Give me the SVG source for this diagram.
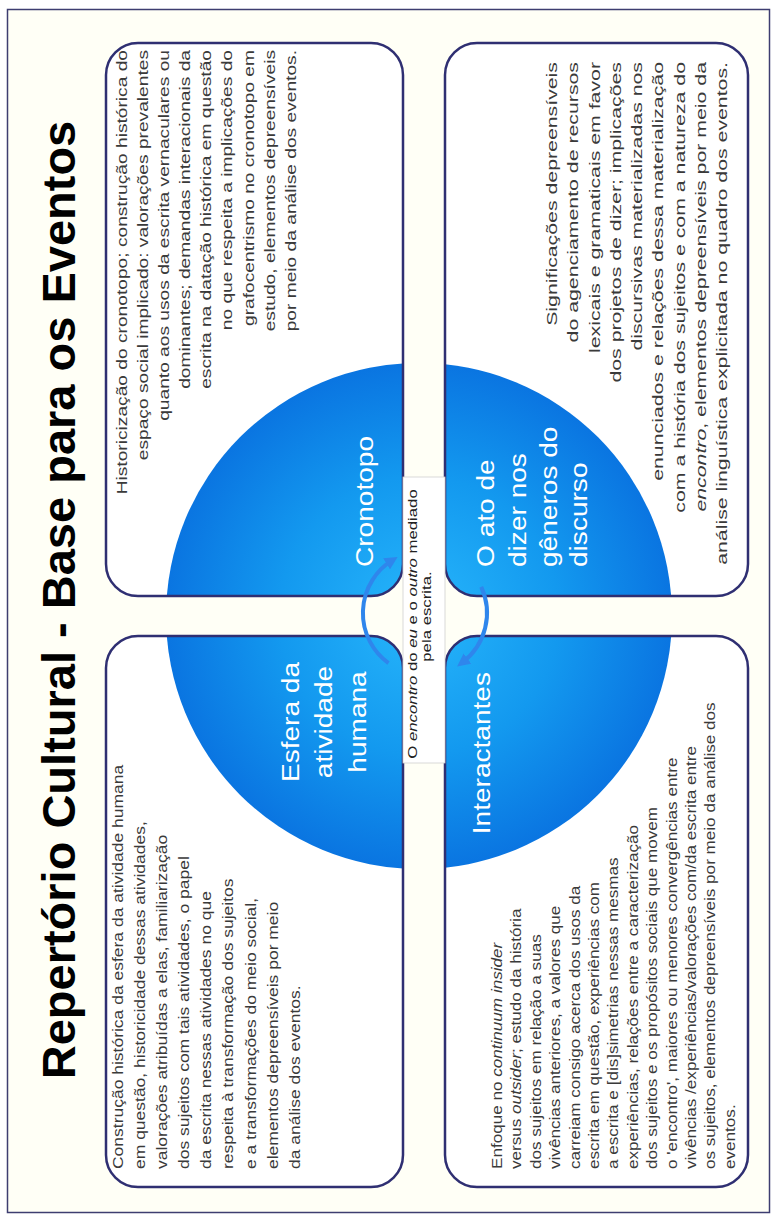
<svg xmlns="http://www.w3.org/2000/svg" width="777" height="1219" viewBox="0 0 777 1219">
<style>
.page{fill:#fffff6;stroke:#3d3d70;stroke-width:1.5}
.boxf{fill:#ffffff;stroke:none}
.boxo{fill:none;stroke:#2f2f72;stroke-width:2.5}
.q{fill:url(#blue)}
.title{font-family:"Liberation Sans",Arial,sans-serif;font-weight:bold;font-size:47px;fill:#000}
.body{font-family:"Liberation Sans",Arial,sans-serif;font-size:14px;fill:#3a3a3a}
.bodyb{font-family:"Liberation Sans",Arial,sans-serif;font-size:15px;fill:#3a3a3a}
.bodys{font-family:"Liberation Sans",Arial,sans-serif;font-size:13.8px;fill:#3a3a3a}
.lbl{font-family:"Liberation Sans",Arial,sans-serif;font-size:24px;fill:#ffffff}
.ctr{font-family:"Liberation Sans",Arial,sans-serif;font-size:12px;fill:#222}
.it{font-style:italic}
.arc{fill:none;stroke:#2f86ec;stroke-width:4}
</style>
<defs>
<radialGradient id="blue" gradientUnits="userSpaceOnUse" cx="419" cy="616" r="253">
<stop offset="0" stop-color="#27b6fb"/>
<stop offset="0.55" stop-color="#1399ef"/>
<stop offset="1" stop-color="#0a75e1"/>
</radialGradient>
<clipPath id="clipC"><rect x="106" y="43" width="297" height="553" rx="32"/></clipPath>
<clipPath id="clipE"><rect x="106" y="636" width="297" height="551" rx="32"/></clipPath>
<clipPath id="clipO"><rect x="445" y="43" width="303" height="553" rx="32"/></clipPath>
<clipPath id="clipI"><rect x="445" y="636" width="303" height="551" rx="32"/></clipPath>
<marker id="ah" viewBox="0 0 10 10" refX="5" refY="5" markerWidth="13" markerHeight="13" markerUnits="userSpaceOnUse" orient="auto"><path d="M0,0 L10,5 L0,10 z" fill="#2f86ec"/></marker>
</defs>
<rect x="0" y="0" width="777" height="1219" fill="#ffffff"/>
<rect class="page" x="7.5" y="9.5" width="762" height="1203"/>

<g id="node-title">
<g transform="matrix(0,-1,1,0,0,1219)">
<text class="title" x="619" y="75" text-anchor="middle">Repertório Cultural - Base para os Eventos</text>
</g>
</g>

<g id="node-esfera">
<rect class="boxf" x="106" y="636" width="297" height="551" rx="32"/>
<circle class="q" cx="419" cy="616" r="253" clip-path="url(#clipE)"/>
<rect class="boxo" x="106" y="636" width="297" height="551" rx="32"/>
<g transform="matrix(0,-1,1,0,0,1219)">
<g transform="translate(497,0) scale(1.17,1)">
<text class="lbl" x="0" y="299" text-anchor="middle">Esfera da</text>
<text class="lbl" x="0" y="332" text-anchor="middle">atividade</text>
<text class="lbl" x="0" y="366" text-anchor="middle">humana</text>
</g>
<g transform="translate(50,0) scale(1.25,1)">
<text class="body" x="0" y="123">Construção histórica da esfera da atividade humana</text>
<text class="body" x="0" y="145.1">em questão, historicidade dessas atividades,</text>
<text class="body" x="0" y="167.2">valorações atribuídas a elas, familiarização</text>
<text class="body" x="0" y="189.3">dos sujeitos com tais atividades, o papel</text>
<text class="body" x="0" y="211.4">da escrita nessas atividades no que</text>
<text class="body" x="0" y="233.5">respeita à transformação dos sujeitos</text>
<text class="body" x="0" y="255.6">e a transformações do meio social,</text>
<text class="body" x="0" y="277.7">elementos depreensíveis por meio</text>
<text class="body" x="0" y="299.8">da análise dos eventos.</text>
</g>
</g>
</g>

<g id="node-cronotopo">
<rect class="boxf" x="106" y="43" width="297" height="553" rx="32"/>
<circle class="q" cx="419" cy="616" r="253" clip-path="url(#clipC)"/>
<rect class="boxo" x="106" y="43" width="297" height="553" rx="32"/>
<g transform="matrix(0,-1,1,0,0,1219)">
<g transform="translate(652,0) scale(1.17,1)">
<text class="lbl" x="0" y="373">Cronotopo</text>
</g>
<g transform="translate(1169,0) scale(1.37,1)">
<text class="body" x="0" y="127" text-anchor="end">Historicização do cronotopo; construção histórica do</text>
<text class="body" x="0" y="148.1" text-anchor="end">espaço  social implicado: valorações prevalentes</text>
<text class="body" x="0" y="169.2" text-anchor="end">quanto aos usos da escrita vernaculares ou</text>
<text class="body" x="0" y="190.3" text-anchor="end">dominantes; demandas interacionais da</text>
<text class="body" x="0" y="211.4" text-anchor="end">escrita na datação histórica em questão</text>
<text class="body" x="0" y="232.5" text-anchor="end">no que respeita a implicações do</text>
<text class="body" x="0" y="253.6" text-anchor="end">grafocentrismo no cronotopo em</text>
<text class="body" x="0" y="274.7" text-anchor="end">estudo, elementos  depreensíveis</text>
<text class="body" x="0" y="295.8" text-anchor="end">por meio da análise dos eventos.</text>
</g>
</g>
</g>

<g id="node-interactantes">
<rect class="boxf" x="445" y="636" width="303" height="551" rx="32"/>
<circle class="q" cx="419" cy="616" r="253" clip-path="url(#clipI)"/>
<rect class="boxo" x="445" y="636" width="303" height="551" rx="32"/>
<g transform="matrix(0,-1,1,0,0,1219)">
<g transform="translate(547,0) scale(1.17,1)">
<text class="lbl" x="0" y="490" text-anchor="end">Interactantes</text>
</g>
<g transform="translate(50,0) scale(1.24,1)">
<text class="bodys" x="0" y="502">Enfoque no <tspan class="it">continuum</tspan>  <tspan class="it">insider</tspan></text>
<text class="bodys" x="0" y="521.4">versus  <tspan class="it">outsider</tspan>; estudo da história</text>
<text class="bodys" x="0" y="540.8">dos  sujeitos em relação a suas</text>
<text class="bodys" x="0" y="560.2">vivências anteriores, a valores que</text>
<text class="bodys" x="0" y="579.6">carreiam consigo acerca dos usos da</text>
<text class="bodys" x="0" y="599">escrita em questão, experiências com</text>
<text class="bodys" x="0" y="618.4">a escrita e [dis]simetrias nessas mesmas</text>
<text class="bodys" x="0" y="637.8">experiências, relações entre a caracterização</text>
<text class="bodys" x="0" y="657.2">dos sujeitos e os propósitos sociais que movem</text>
<text class="bodys" x="0" y="676.6">o 'encontro', maiores ou menores convergências entre</text>
<text class="bodys" x="0" y="696">vivências /experiências/valorações com/da escrita entre</text>
<text class="bodys" x="0" y="715.4">os sujeitos, elementos depreensíveis por meio da análise dos</text>
<text class="bodys" x="0" y="734.8">eventos.</text>
</g>
</g>
</g>

<g id="node-ato">
<rect class="boxf" x="445" y="43" width="303" height="553" rx="32"/>
<circle class="q" cx="419" cy="616" r="253" clip-path="url(#clipO)"/>
<rect class="boxo" x="445" y="43" width="303" height="553" rx="32"/>
<g transform="matrix(0,-1,1,0,0,1219)">
<g transform="translate(652,0) scale(1.17,1)">
<text class="lbl" x="0" y="494">O ato de</text>
<text class="lbl" x="0" y="526">dizer nos</text>
<text class="lbl" x="0" y="557">gêneros do</text>
<text class="lbl" x="0" y="587">discurso</text>
</g>
<g transform="translate(1157,0) scale(1.42,1)">
<text class="bodyb" x="0" y="557" text-anchor="end">Significações depreensíveis</text>
<text class="bodyb" x="0" y="578.3" text-anchor="end">do agenciamento de recursos</text>
<text class="bodyb" x="0" y="599.6" text-anchor="end">lexicais e gramaticais em favor</text>
<text class="bodyb" x="0" y="620.9" text-anchor="end">dos projetos de dizer; implicações</text>
<text class="bodyb" x="0" y="642.2" text-anchor="end">discursivas materializadas nos</text>
<text class="bodyb" x="0" y="663.5" text-anchor="end">enunciados e relações dessa materialização</text>
<text class="bodyb" x="0" y="684.8" text-anchor="end">com a história dos sujeitos e com a natureza do</text>
<text class="bodyb" x="0" y="706.1" text-anchor="end"><tspan class="it">encontro</tspan>, elementos depreensíveis por meio da</text>
<text class="bodyb" x="0" y="727.4" text-anchor="end">análise linguística explicitada no quadro dos eventos.</text>
</g>
</g>
</g>

<g id="connectors">
<path class="arc" d="M388.5 663.2 A62 62 0 0 1 392.1 560.4" marker-end="url(#ah)"/>
<path class="arc" d="M481.2 586.8 A62 62 0 0 1 462.3 662.5" marker-end="url(#ah)"/>
</g>

<g id="node-centro">
<rect x="403" y="477" width="42" height="286" fill="#ffffff" stroke="#cfcfcf" stroke-width="0.8"/>
<g transform="matrix(0,-1,1,0,0,1219)">
<g transform="translate(595,0) scale(1.4,1)">
<text class="ctr" x="0" y="417" text-anchor="middle">O <tspan class="it">encontro</tspan> do <tspan class="it">eu</tspan> e o <tspan class="it">outro</tspan> mediado</text>
</g>
<g transform="translate(602.5,0) scale(1.4,1)">
<text class="ctr" x="0" y="431" text-anchor="middle">pela escrita.</text>
</g>
</g>
</g>
</svg>
